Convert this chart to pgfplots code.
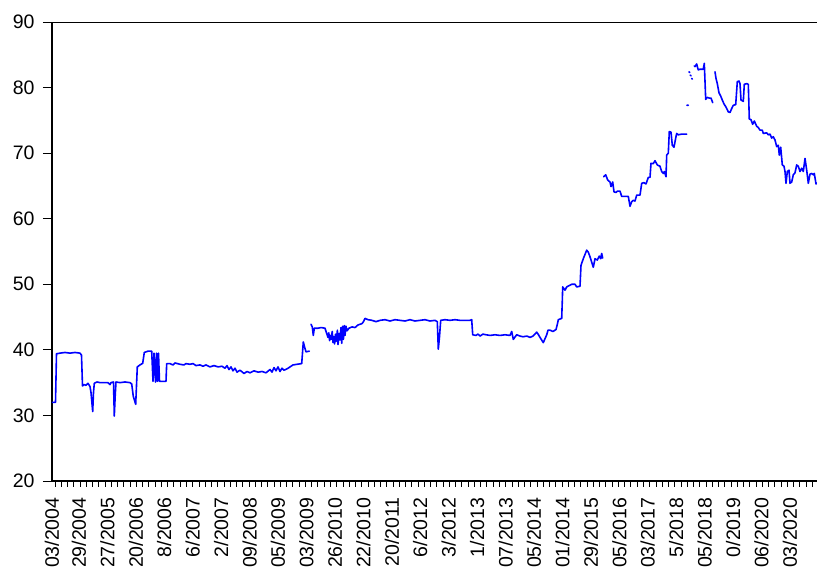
\documentclass[border=0pt]{standalone}
\usepackage{fontspec}
\setmainfont{Liberation Sans}
\usepackage{pgfplots}
\usepackage{pgfplotstable}
\pgfplotsset{compat=1.18}

% Daily series, x in plot units (one unit = one pixel of the 817 x 569 frame)
\pgfplotstableread{
x y
52 32.0
55.5 32.0
56.5 39.4
60 39.5
65 39.6
70 39.5
75 39.6
80 39.5
81.5 39.2
82.5 34.5
84 34.7
86 34.6
88 34.9
90 34.4
91 33.5
92.7 30.6
93.5 33.5
94.3 34.9
97 35.1
100 35.0
105 35.0
108 35.0
110 34.7
111 35.0
113.5 35.1
114.3 29.9
115.2 33.0
116 35.1
120 35.0
125 35.1
130 35.0
131.7 34.8
133.3 32.9
135.7 31.7
137.3 37.4
140 37.7
142.7 37.95
144.3 39.6
148 39.8
151.7 39.8
153 35.2
154 39.5
155.5 35.1
156.5 39.5
157.5 35.2
158.5 39.5
159.5 35.2
163 35.2
166 35.2
166.7 37.9
170 37.9
173 37.7
175 38.0
180 37.8
184 37.7
186 37.9
190 37.8
193 37.9
196 37.6
200 37.7
203 37.5
206 37.7
210 37.4
214 37.6
218 37.4
222 37.5
225 37.2
227 37.6
229 37.0
231 37.4
233 36.8
235 37.2
237 36.6
240 36.9
244 36.4
247 36.7
250 36.5
254 36.8
258 36.6
262 36.7
266 36.5
270 37.0
272 36.6
274 37.3
276 36.8
278 37.4
280 36.7
282 37.2
284 36.9
287 37.1
290 37.4
293 37.7
297 37.8
301.7 37.9
303.3 41.2
305 40.2
306 39.7
309.3 39.8
310 nan
311 43.9
312.3 43.5
313.3 42.2
314.3 43.3
318 43.3
321 43.4
325 43.3
326.7 42.5
328 41.9
328.8 42.6
329.6 41.4
330.5 42.2
331.2 41.6
332.2 42.8
333 41.1
334 42.0
334.6 40.9
335.5 42.4
336.2 41.3
337.4 43.0
338 40.8
339.2 42.5
340 41.5
341 43.4
341.7 41.0
342.6 43.6
343.4 41.6
344.3 43.7
345 42.2
346 43.6
347 42.9
349 43.3
352 43.5
355 43.4
358 43.8
362 44.0
363.5 44.3
365 44.8
368 44.6
372 44.5
376 44.3
380 44.5
385 44.6
390 44.4
395 44.6
400 44.5
405 44.4
410 44.6
415 44.4
420 44.5
425 44.6
430 44.4
435 44.5
437.3 44.3
438.3 40.1
439.5 42.0
440.7 44.5
445 44.6
450 44.5
455 44.6
460 44.5
465 44.5
470 44.5
471.7 44.6
472.7 42.3
476 42.2
478 42.4
480 42.1
483 42.4
486 42.3
490 42.2
495 42.3
500 42.2
505 42.3
510 42.2
511.7 42.8
513.3 41.6
516.7 42.3
520 42.1
523 42.0
527 42.1
530 41.9
533 42.1
536.7 42.7
538.5 42.3
540 41.9
543.3 41.1
546.7 42.3
548 43.0
550 43.0
553 42.8
556 43.1
557.5 44.0
558.3 44.6
561.7 44.8
562.3 47.5
562.7 49.6
565 49.1
566.7 49.6
571.7 50.0
575 50.0
576.7 49.6
580 49.7
581 52.9
583.3 53.9
586.7 55.2
588.3 54.9
590 54.2
593.3 52.6
595 53.9
597.3 53.7
599.3 54.3
600.7 53.9
601.7 54.7
602.7 54.0
603 nan
603.6 66.4
605.7 66.7
607.7 65.9
610 65.6
611 64.9
612.7 65.6
614 64.1
616 64.0
617.3 64.2
620 64.2
621.7 63.4
625 63.4
628.3 63.4
630 61.9
631.7 62.6
633.3 62.8
635 62.7
636.7 63.6
640 63.6
641.7 65.4
644 65.5
646 65.3
648.3 66.3
650 66.3
651 68.45
653.3 68.4
655 68.85
657.3 68.2
660 68.0
661.7 67.2
663.3 66.9
664.3 67.2
666 66.4
666.7 69.7
668.3 70.0
669.3 73.3
671 73.2
672.3 71.2
674 70.9
675.7 72.3
676.7 73.0
678.3 72.8
681.7 72.9
684 72.9
686.7 72.9
687 nan
687.0 77.3
688.4 77.3
688.6 nan
688.9 82.4
689.8 82.3
690 nan
690.2 81.9
691.1 81.8
691.3 nan
691.6 81.4
692.4 81.3
693 nan
694.3 83.3
695 83.2
696.7 83.6
697.7 83.0
698.3 82.7
700 82.8
703.3 82.8
704.3 83.7
705.7 78.2
707.3 78.5
709.3 78.4
711 78.4
712.7 77.7
714 nan
715 82.4
716 81.4
717.3 80.6
719 79.2
720.7 78.7
722.3 78.1
724 77.5
725.7 77.1
728.3 76.3
730 76.2
731.7 76.8
733.3 77.3
735.7 77.4
737.3 80.9
739 81.0
740 80.6
741 78.1
743.3 77.9
744.3 80.5
746.7 80.6
748.3 80.5
749.3 75.2
751 75.1
752.7 74.4
754.3 74.9
756.7 74.1
758.3 73.9
760 73.5
762.3 73.5
763.3 73.0
766.7 73.1
768.3 72.8
770 72.9
771.7 72.3
773.3 72.5
775 72.0
776.7 71.0
778.3 71.2
779.3 69.7
780.7 70.9
782.3 68.2
784 68.0
785 67.2
786 65.4
787.3 67.2
789 67.4
790 65.4
791.7 65.6
793.3 66.7
795 67.0
796.7 68.2
798.3 68.0
800 67.2
801.7 67.7
803.3 67.2
805 69.2
806.7 67.4
808.3 65.4
810 66.8
811.7 66.9
813.3 66.7
814.3 66.9
816 65.3
818 65.5
}\series

\begin{document}
\begin{tikzpicture}
\begin{axis}[
  at={(0pt,0pt)}, anchor=south west,
  width=770pt, height=459pt, scale only axis,
  xmin=52, xmax=822, ymin=20, ymax=90,
  ytick={20,30,...,90},
  xtick={52,78.94,107.38,135.82,164.26,192.7,221.14,249.58,278.02,306.46,334.9,363.34,391.78,420.22,448.66,477.1,505.54,533.98,562.42,590.86,619.3,647.74,676.18,704.62,733.06,761.5,789.94},
  xticklabels={03/2004,29/2004,27/2005,20/2006,8/2006,6/2007,2/2007,09/2008,05/2009,03/2009,26/2010,22/2010,20/2011,6/2012,3/2012,1/2013,07/2013,05/2014,01/2014,29/2015,05/2016,03/2017,5/2018,05/2018,0/2019,06/2020,03/2020},
  minor xtick={55,61.26,...,822},
  tick align=outside,
  major tick length=9pt,
  minor tick length=6pt,
  major x tick style={draw=none},
  minor x tick style={line width=0.9pt, black},
  ytick style={line width=0.9pt, black},
  axis line style={line width=1.2pt, black},
  axis x line*=bottom,
  axis y line*=left,
  /pgf/number format/assume math mode=true,
  tick label style={font=\fontsize{19.5}{22}\selectfont, black, inner sep=0pt},
  yticklabel style={anchor=east, xshift=-8.3pt},
  xticklabel style={rotate=90, anchor=east, xshift=-7.3pt},
  unbounded coords=jump,
]
\addplot[blue, line width=1.6pt, line join=round, line cap=round] table[x=x, y=y] {\series};
% top frame line
\draw[line width=1.2pt, black] (rel axis cs:0,1) -- (rel axis cs:1,1);
\end{axis}
\pgfresetboundingbox
\useasboundingbox (-52pt,-88pt) rectangle (765pt,481pt);
\end{tikzpicture}
\end{document}
